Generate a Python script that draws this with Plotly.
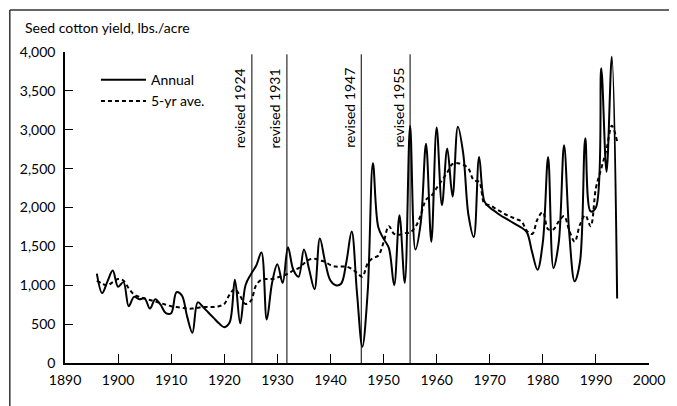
import plotly.graph_objects as go

# Rendimiento de algodón en rama (lbs./acre)
years = list(range(1896, 1995))

annual = [
    1150, 900, 1050, 1190, 980, 1040, 730, 850, 820, 830,      # 1896-1905
    700, 820, 750, 640, 640, 910, 870, 600, 390, 780,          # 1906-1915
    720, 650, 580, 510, 460, 520, 1070, 510, 1000, 1140,       # 1916-1925
    1250, 1420, 560, 1030, 1270, 1030, 1490, 1200, 1110, 1460, # 1926-1935
    1200, 950, 1600, 1300, 1060, 1000, 1020, 1300, 1690, 900,  # 1936-1945
    210, 900, 2570, 1750, 1600, 1480, 1000, 1900, 1030, 3050,  # 1946-1955
    1460, 1800, 2820, 1560, 3030, 2030, 2760, 2140, 3040, 2700,# 1956-1965
    1900, 1620, 2650, 2080, 2000, 1950, 1900, 1860, 1820, 1780,# 1966-1975
    1740, 1680, 1420, 1200, 1550, 2650, 1220, 1550, 2800, 1650,# 1976-1985
    1050, 1300, 2890, 1950, 2000, 3790, 2460, 3940, 830,       # 1986-1994
]

avg5 = [
    1060, 1020, 1000, 1040, 1080, 1060, 960, 880, 850, 830,    # 1896-1905
    810, 790, 770, 750, 730, 720, 710, 700, 700, 710,          # 1906-1915
    720, 720, 720, 730, 760, 880, 950, 860, 760, 800,          # 1916-1925
    1000, 1070, 1080, 1080, 1100, 1120, 1150, 1190, 1220, 1280,# 1926-1935
    1330, 1340, 1320, 1300, 1260, 1240, 1240, 1240, 1210, 1160,# 1936-1945
    1110, 1280, 1350, 1380, 1550, 1760, 1660, 1650, 1670, 1680,# 1946-1955
    1750, 1900, 2100, 2150, 2250, 2350, 2450, 2560, 2570, 2550,# 1956-1965
    2500, 2350, 2330, 2050, 2030, 1990, 1950, 1910, 1880, 1850,# 1966-1975
    1820, 1700, 1660, 1850, 1940, 1720, 1720, 1820, 1890, 1700,# 1976-1985
    1560, 1780, 1900, 1760, 2250, 2500, 2750, 3050, 2850,      # 1986-1994
]

# Líneas de revisión
revision_x = [1925.2, 1931.8, 1945.8, 1955.0]
revision_labels = ["revised 1924", "revised 1931", "revised 1947", "revised 1955"]

x_ticks = list(range(1890, 2001, 10))
y_ticks = [0, 500, 1000, 1500, 2000, 2500, 3000, 3500, 4000]

FONT = "Lato"

fig = go.Figure()
fig.add_trace(go.Scatter(
    x=years, y=annual, mode="lines", name="Annual",
    line=dict(color="black", width=2, shape="spline", smoothing=1.0),
))
fig.add_trace(go.Scatter(
    x=years, y=avg5, mode="lines", name="5-yr ave.",
    line=dict(color="black", width=2, dash="4px,3px", shape="spline", smoothing=1.0),
))

for rx, label in zip(revision_x, revision_labels):
    fig.add_shape(type="line", xref="x", yref="y", x0=rx, x1=rx, y0=0, y1=3970,
                  line=dict(color="black", width=1))
    fig.add_annotation(x=rx, y=3280, xref="x", yref="y", text=label,
                       textangle=-90, showarrow=False, xanchor="right", xshift=-1,
                       font=dict(family=FONT, size=14, color="black"))

# Título del eje y arriba a la izquierda
fig.add_annotation(x=-0.072, y=1.08, xref="paper", yref="paper",
                   text="Seed cotton yield, lbs./acre", showarrow=False,
                   xanchor="left", yanchor="middle",
                   font=dict(family=FONT, size=14, color="black"))

# Marco (arriba e izquierda)
fig.add_shape(type="line", xref="paper", yref="paper", x0=-0.0945, x1=1.06, y0=1.135, y1=1.135,
              line=dict(color="#333", width=1.5))
fig.add_shape(type="line", xref="paper", yref="paper", x0=-0.0945, x1=-0.0945, y0=1.135, y1=-0.14,
              line=dict(color="#333", width=1.5))

# la página tiene 8 px de margen, por eso la figura es algo menor que la ventana
fig.update_layout(
    width=669, height=398,
    margin=dict(l=56, r=26, t=44, b=43),
    paper_bgcolor="white", plot_bgcolor="white",
    font=dict(family=FONT, size=14, color="black"),
    showlegend=True,
    legend=dict(x=0.053, y=0.961, xanchor="left", yanchor="top", itemwidth=45,
                bgcolor="rgba(0,0,0,0)", font=dict(family=FONT, size=14)),
    xaxis=dict(range=[1890, 2000], tickvals=x_ticks, ticks="inside", ticklen=9,
               tickcolor="black", showline=True, linecolor="black", linewidth=1.5,
               showgrid=False, zeroline=False, tickfont=dict(size=14),
               ticklabelstandoff=3),
    yaxis=dict(range=[0, 4000], tickvals=y_ticks, tickformat=",", ticks="inside",
               ticklen=8, tickcolor="black", showline=True, linecolor="black",
               linewidth=1.5, showgrid=False, zeroline=False, tickfont=dict(size=14),
               ticklabelstandoff=5),
)

fig.write_html("out.html")
